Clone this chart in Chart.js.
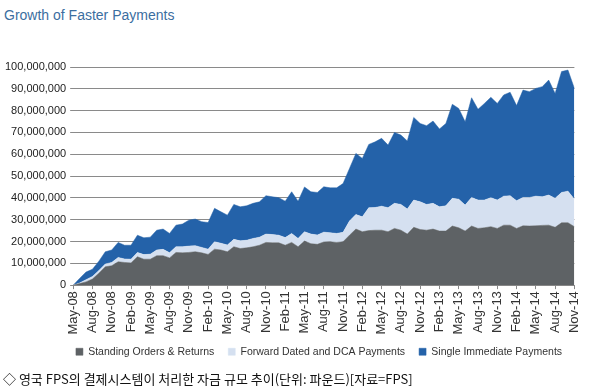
<!DOCTYPE html>
<html>
<head>
<meta charset="utf-8">
<script src="https://cdn.jsdelivr.net/npm/chart.js@4"></script>
<style>
  html, body { margin: 0; padding: 0; background: #fff; }
  body { width: 592px; height: 391px; position: relative; overflow: hidden; font-family: "Liberation Sans", Arial, sans-serif; }
  #title { position: absolute; left: 4px; top: 7px; font-size: 14px; color: #3b6e9f; }
  #wrap { position: absolute; left: 0; top: 40px; width: 592px; height: 331px; }
  #caption { position: absolute; left: 3px; top: 369px; font-size: 13px; color: #111; font-family: "Noto Sans CJK KR", "Liberation Sans", sans-serif; }
</style>
</head>
<body>
<div id="title">Growth of Faster Payments</div>
<div id="wrap"><canvas id="chart"></canvas></div>
<div id="caption">◇ 영국 FPS의 결제시스템이 처리한 자금 규모 추이(단위: 파운드)[자료=FPS]</div>
<script>
// monthly, May-08 .. Nov-14 (values in millions of pounds)
const months = [
    'May-08','Jun-08','Jul-08','Aug-08','Sep-08','Oct-08','Nov-08','Dec-08','Jan-09','Feb-09',
    'Mar-09','Apr-09','May-09','Jun-09','Jul-09','Aug-09','Sep-09','Oct-09','Nov-09','Dec-09',
    'Jan-10','Feb-10','Mar-10','Apr-10','May-10','Jun-10','Jul-10','Aug-10','Sep-10','Oct-10',
    'Nov-10','Dec-10','Jan-11','Feb-11','Mar-11','Apr-11','May-11','Jun-11','Jul-11','Aug-11',
    'Sep-11','Oct-11','Nov-11','Dec-11','Jan-12','Feb-12','Mar-12','Apr-12','May-12','Jun-12',
    'Jul-12','Aug-12','Sep-12','Oct-12','Nov-12','Dec-12','Jan-13','Feb-13','Mar-13','Apr-13',
    'May-13','Jun-13','Jul-13','Aug-13','Sep-13','Oct-13','Nov-13','Dec-13','Jan-14','Feb-14',
    'Mar-14','Apr-14','May-14','Jun-14','Jul-14','Aug-14','Sep-14','Oct-14','Nov-14'
];

const standingOrders = [
    0, 0.7, 1.5, 2.8, 5.5, 8.4, 8.9, 10.7, 10.4, 10.2,
    13.0, 11.9, 11.9, 13.5, 13.5, 12.5, 15.0, 14.8, 15.0, 15.3,
    14.8, 14.1, 16.5, 16.1, 15.3, 17.6, 16.8, 17.1, 17.6, 18.3,
    19.6, 19.4, 19.4, 18.3, 19.6, 17.6, 20.2, 19.0, 18.7, 19.8,
    19.9, 19.6, 19.9, 22.9, 25.7, 24.5, 25.0, 25.2, 25.2, 24.5,
    26.0, 25.2, 23.4, 26.5, 25.5, 25.2, 25.7, 24.8, 24.8, 27.1,
    26.3, 24.8, 27.1, 26.0, 26.3, 26.8, 26.0, 27.5, 27.5, 26.0,
    27.2, 27.1, 27.2, 27.4, 27.5, 26.5, 28.6, 28.6, 26.8
];

const forwardDated = [
    0, 0.3, 1.0, 1.2, 1.2, 1.3, 1.5, 2.0, 1.6, 1.7,
    2.0, 2.1, 2.3, 2.6, 2.9, 2.4, 2.6, 2.8, 2.9, 2.8,
    2.5, 2.4, 3.4, 3.1, 3.1, 3.4, 3.5, 3.5, 3.8, 3.7,
    3.8, 3.8, 3.5, 3.5, 4.1, 3.8, 4.3, 4.4, 4.3, 4.5,
    4.1, 4.1, 4.3, 6.5, 6.7, 6.8, 10.5, 10.4, 11.0, 11.0,
    11.5, 11.8, 11.5, 12.5, 12.7, 11.8, 11.8, 11.1, 11.6, 12.7,
    13.1, 11.9, 13.1, 13.0, 12.7, 13.3, 13.0, 13.3, 13.5, 12.7,
    13.0, 13.1, 13.6, 13.1, 13.8, 13.3, 13.9, 14.5, 12.6
];

const singleImmediate = [
    0, 2.1, 3.5, 3.3, 4.3, 5.6, 5.7, 6.9, 6.3, 6.4,
    7.9, 7.7, 7.8, 9.1, 9.3, 8.8, 9.9, 10.4, 11.9, 12.2,
    11.8, 12.2, 15.3, 14.4, 13.7, 16.0, 15.6, 15.8, 16.1, 16.2,
    17.6, 17.3, 17.2, 16.7, 19.1, 17.1, 20.5, 19.4, 19.5, 20.8,
    20.6, 20.9, 22.4, 24.1, 28.0, 26.8, 29.0, 30.1, 31.1, 28.7,
    32.5, 31.8, 31.2, 37.9, 35.9, 36.1, 37.7, 35.7, 37.7, 43.1,
    41.6, 38.2, 45.7, 41.6, 44.3, 46.0, 44.3, 46.4, 47.4, 43.6,
    49.2, 48.5, 49.4, 50.5, 52.7, 48.1, 55.4, 55.5, 50.8
];

const seriesNames = ['Standing Orders & Returns', 'Forward Dated and DCA Payments', 'Single Immediate Payments'];
const seriesColors = ['#5e6265', '#d5e0f0', '#2462a9'];

const toPounds = arr => arr.map(v => v * 1000000);

// the legend in the source sits a little right of centre and close under the labels
const legendShift = {
    id: 'legendShift',
    afterLayout(chart) {
        const lg = chart.legend;
        if (!lg) return;
        lg.left += 25;
        lg.right += 25;
        lg.top -= 4;
        lg.bottom -= 4;
    }
};

const ctx = document.getElementById('chart').getContext('2d');
new Chart(ctx, {
    type: 'line',
    data: {
        labels: months,
        datasets: [standingOrders, forwardDated, singleImmediate].map((vals, i) => ({
            label: seriesNames[i],
            data: toPounds(vals),
            backgroundColor: seriesColors[i],
            borderColor: seriesColors[i],
            borderWidth: 0.5,
            pointRadius: 0,
            tension: 0,
            fill: i === 0 ? 'origin' : '-1'
        }))
    },
    plugins: [legendShift],
    options: {
        responsive: true,
        maintainAspectRatio: false,
        animation: false,
        layout: { padding: { top: 27, left: 1, right: 5, bottom: 0 } },
        plugins: {
            tooltip: { enabled: false },
            legend: {
                position: 'bottom',
                labels: {
                    boxWidth: 7,
                    boxHeight: 7,
                    padding: 14,
                    color: '#333',
                    font: { family: '"Liberation Sans", Arial, sans-serif', size: 10.5 }
                }
            }
        },
        scales: {
            x: {
                grid: {
                    drawOnChartArea: false,
                    tickLength: 4,
                    color: c => (c.index % 3 === 0 ? '#888' : 'rgba(0,0,0,0)')
                },
                border: { display: true, color: '#888' },
                ticks: {
                    autoSkip: false,
                    maxRotation: 90,
                    minRotation: 90,
                    padding: 2,
                    color: '#333',
                    font: { family: '"Liberation Sans", Arial, sans-serif', size: 13 },
                    callback: (v, i) => (i % 3 === 0 ? months[i] : '')
                }
            },
            y: {
                stacked: true,
                min: 0,
                max: 100000000,
                grid: { color: '#8a8a8a', tickLength: 3 },
                border: { display: false },
                ticks: {
                    stepSize: 10000000,
                    padding: 4,
                    color: '#222',
                    font: { family: '"Liberation Sans", Arial, sans-serif', size: 11 },
                    callback: v => v.toLocaleString('en-US')
                }
            }
        }
    }
});
</script>
</body>
</html>
